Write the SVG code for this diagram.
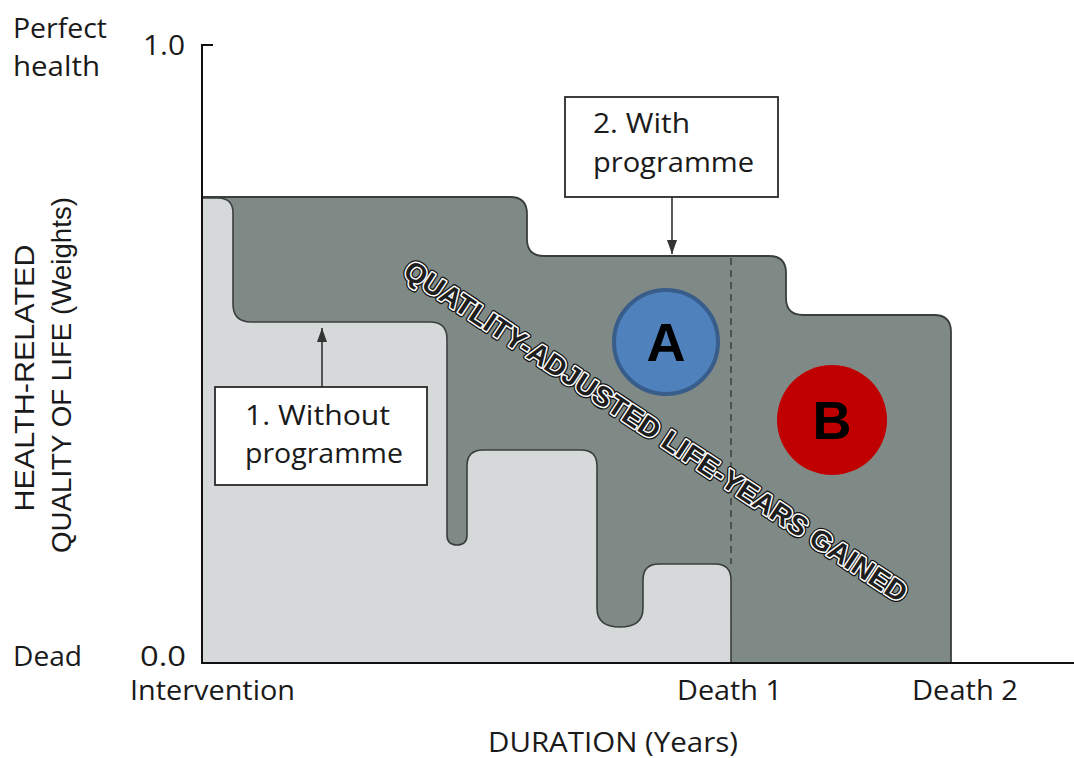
<svg xmlns="http://www.w3.org/2000/svg" width="1074" height="758" viewBox="0 0 1074 758">
  <defs>
    <marker id="arr" viewBox="0 0 14 10" refX="14" refY="5" markerWidth="14" markerHeight="10" markerUnits="userSpaceOnUse" orient="auto">
      <path d="M0,0 L14,5 L0,10 Z" fill="#333"/>
    </marker>
    <style>
      .lbl { font-family: "Open Sans", "Noto Sans", "Liberation Sans", sans-serif; font-size: 27px; fill: #1a1a1a; }
      .ax { font-family: "Liberation Sans", Arial, sans-serif; font-size: 28px; fill: #1a1a1a; }
      .box { fill: #ffffff; stroke: #2a2a2a; stroke-width: 1.8; }
      .conn { stroke: #333; stroke-width: 1.6; fill: none; }
      .diag { font-family: "Liberation Sans", Arial, sans-serif; font-weight: bold; font-size: 28px; }
      .letter { font-family: "Liberation Sans", Arial, sans-serif; font-weight: bold; font-size: 54px; fill: #000; }
    </style>
  </defs>
  <rect width="1074" height="758" fill="#ffffff"/>

  <!-- With programme area (dark) -->
  <g id="with-programme-area">
    <path d="M202,663 L202,197 L510,197 Q527,197 527,214 L527,239 Q527,256 544,256 L769,256 Q786,256 786,273 L786,298 Q786,315 803,315 L934,315 Q951,315 951,332 L951,663 Z" fill="#7f8a86" stroke="#3a3f3e" stroke-width="1.8"/>
  </g>

  <!-- Without programme area (light) -->
  <g id="without-programme-area">
    <path d="M202,663 L202,198 L218,198 Q233,198 233,213 L233,304 Q233,322 251,322 L430,322 Q447,322 447,339 L447,535 Q447,545 457,545 Q467,545 467,535 L467,466 Q467,450 483,450 L581,450 Q597,450 597,466 L597,608 Q597,627 620,627 Q643,627 643,608 L643,580 Q643,564 659,564 L715,564 Q731,564 731,580 L731,663 Z" fill="#d6d9da" stroke="#3a3f3e" stroke-width="1.6"/>
  </g>

  <!-- Death 1 dashed line -->
  <line x1="731" y1="258" x2="731" y2="564" stroke="#333" stroke-width="1.3" stroke-dasharray="7,5"/>

  <!-- Axes -->
  <g id="axes" fill="none" stroke="#111" stroke-width="2">
    <polyline points="213,45 202,45 202,663 1074,663"/>
  </g>

  <!-- Axis labels -->
  <text class="lbl" x="13" y="38" textLength="94" lengthAdjust="spacingAndGlyphs">Perfect</text>
  <text class="lbl" x="13" y="76" textLength="87" lengthAdjust="spacingAndGlyphs">health</text>
  <text class="lbl" x="143" y="55" textLength="42" lengthAdjust="spacingAndGlyphs">1.0</text>
  <text class="lbl" x="13" y="666" textLength="69" lengthAdjust="spacingAndGlyphs">Dead</text>
  <text class="lbl" x="140" y="666" textLength="46" lengthAdjust="spacingAndGlyphs">0.0</text>
  <text class="lbl" x="130" y="700" textLength="165" lengthAdjust="spacingAndGlyphs">Intervention</text>
  <text class="lbl" x="677" y="700" textLength="105" lengthAdjust="spacingAndGlyphs">Death 1</text>
  <text class="lbl" x="912" y="700" textLength="106" lengthAdjust="spacingAndGlyphs">Death 2</text>
  <text class="lbl" x="488" y="752" textLength="250" lengthAdjust="spacingAndGlyphs">DURATION (Years)</text>
  <text class="ax" transform="translate(34,378) rotate(-90)" text-anchor="middle" textLength="267" lengthAdjust="spacingAndGlyphs">HEALTH-RELATED</text>
  <text class="ax" transform="translate(71,375) rotate(-90)" text-anchor="middle" textLength="356" lengthAdjust="spacingAndGlyphs">QUALITY OF LIFE (Weights)</text>

  <!-- Diagonal label -->
  <g id="qaly-label" transform="translate(656,431) rotate(33.4)">
    <text class="diag" x="0" y="10" text-anchor="middle" textLength="596" lengthAdjust="spacing" fill="none" stroke="#111" stroke-width="5.5" stroke-linejoin="round">QUATLITY-ADJUSTED LIFE-YEARS GAINED</text>
    <text class="diag" x="0" y="10" text-anchor="middle" textLength="596" lengthAdjust="spacing" fill="none" stroke="#ffffff" stroke-width="3" stroke-linejoin="round">QUATLITY-ADJUSTED LIFE-YEARS GAINED</text>
    <text class="diag" x="0" y="10" text-anchor="middle" textLength="596" lengthAdjust="spacing" fill="#1e1e1e">QUATLITY-ADJUSTED LIFE-YEARS GAINED</text>
  </g>

  <!-- Connectors -->
  <g id="connectors">
    <line class="conn" x1="322" y1="387" x2="322" y2="328" marker-end="url(#arr)"/>
    <line class="conn" x1="672" y1="197" x2="672" y2="254" marker-end="url(#arr)"/>
  </g>

  <!-- Box 1 -->
  <g id="without-programme-box">
    <rect class="box" x="215" y="387" width="212" height="98"/>
    <text class="lbl" x="245" y="425" textLength="145" lengthAdjust="spacingAndGlyphs">1. Without</text>
    <text class="lbl" x="245" y="463" textLength="158" lengthAdjust="spacingAndGlyphs">programme</text>
  </g>

  <!-- Box 2 -->
  <g id="with-programme-box">
    <rect class="box" x="565" y="97" width="213" height="100"/>
    <text class="lbl" x="593" y="133" textLength="97" lengthAdjust="spacingAndGlyphs">2. With</text>
    <text class="lbl" x="593" y="172" textLength="161" lengthAdjust="spacingAndGlyphs">programme</text>
  </g>

  <!-- Circle A -->
  <g id="circle-a">
    <circle cx="666" cy="342" r="52" fill="#4f81bd" stroke="#385d8a" stroke-width="4"/>
    <text class="letter" x="666" y="361" text-anchor="middle">A</text>
  </g>

  <!-- Circle B -->
  <g id="circle-b">
    <circle cx="832" cy="420" r="55" fill="#c00000"/>
    <text class="letter" x="832" y="439" text-anchor="middle">B</text>
  </g>
</svg>
